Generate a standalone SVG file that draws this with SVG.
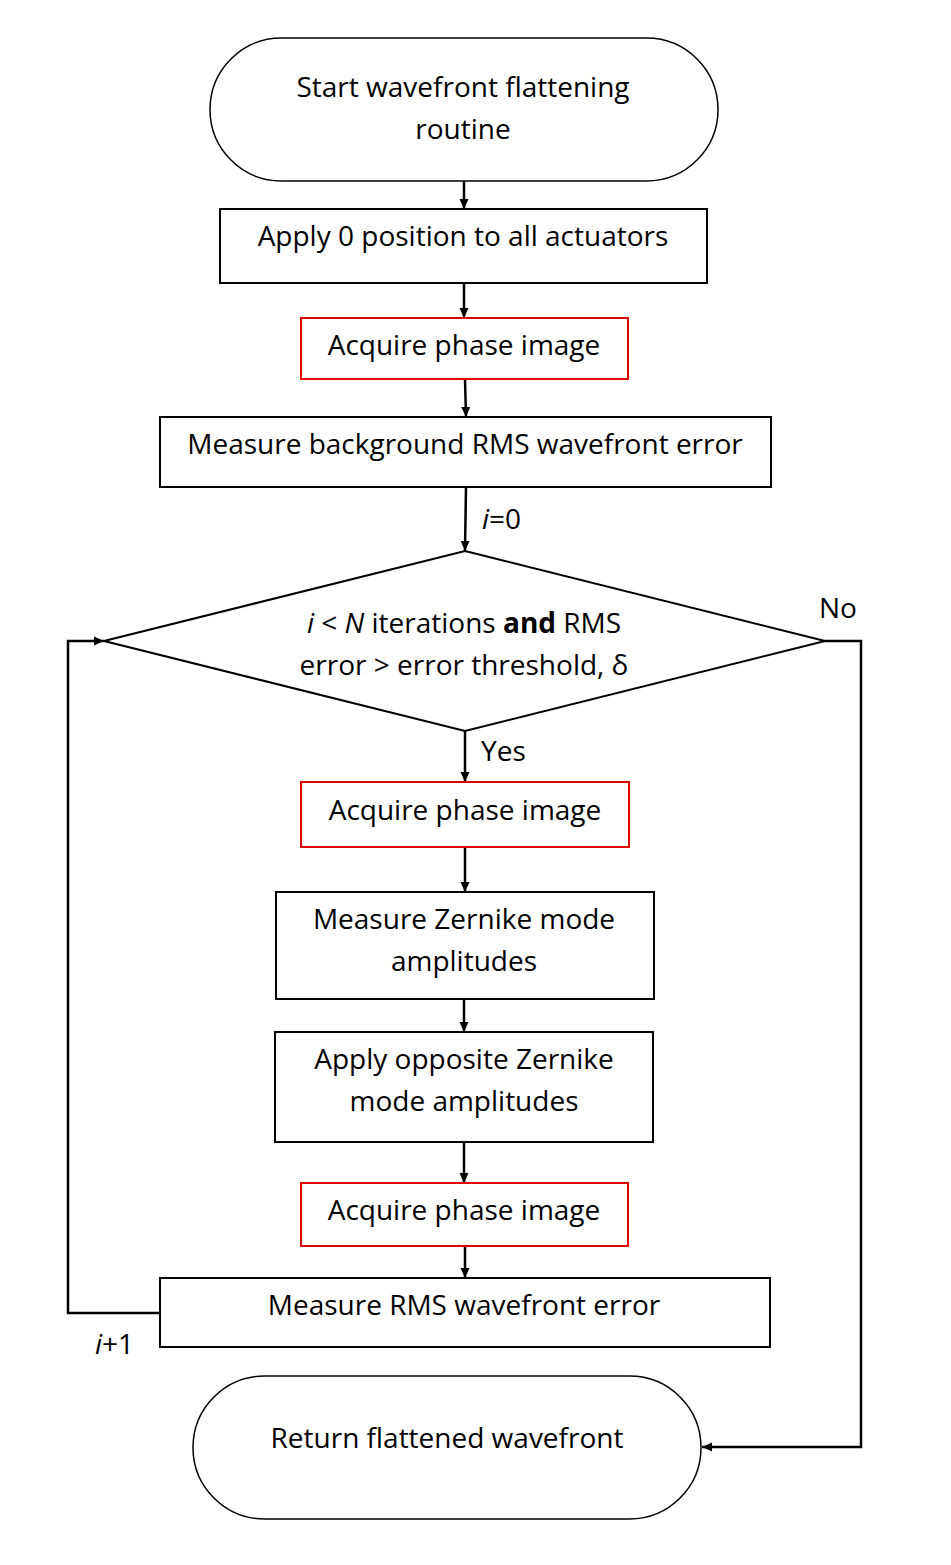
<svg xmlns="http://www.w3.org/2000/svg" width="951" height="1565" viewBox="0 0 951 1565">
<style>
.box{fill:#fff;stroke:#000;stroke-width:2}
.red{fill:#fff;stroke:#e00000;stroke-width:2}
.term{fill:#fff;stroke:#000;stroke-width:1.5}
.t{font-family:"Open Sans","Noto Sans",sans-serif;font-size:28px;fill:#000;text-anchor:middle}
.l{font-family:"Open Sans","Noto Sans",sans-serif;font-size:28px;fill:#000}
.c{fill:none;stroke:#000;stroke-width:2.5}
</style>
<defs>
<marker id="ah" viewBox="0 0 10 10" refX="10" refY="5" markerWidth="10" markerHeight="10" markerUnits="userSpaceOnUse" orient="auto">
<path d="M0,0.5 L10,5 L0,9.5 Z" fill="#000"/>
</marker>
</defs>
<rect width="951" height="1565" fill="#fff"/>
<g id="connectors">
<line class="c" x1="464" y1="181" x2="464" y2="209" marker-end="url(#ah)"/>
<line class="c" x1="464" y1="283" x2="464" y2="318" marker-end="url(#ah)"/>
<line class="c" x1="465" y1="379" x2="466" y2="417" marker-end="url(#ah)"/>
<line class="c" x1="466" y1="487" x2="465" y2="551" marker-end="url(#ah)"/>
<line class="c" x1="465" y1="731" x2="465" y2="782" marker-end="url(#ah)"/>
<line class="c" x1="465" y1="847" x2="465" y2="892" marker-end="url(#ah)"/>
<line class="c" x1="464" y1="999" x2="464" y2="1032" marker-end="url(#ah)"/>
<line class="c" x1="464" y1="1142" x2="464" y2="1183" marker-end="url(#ah)"/>
<line class="c" x1="465" y1="1246" x2="465" y2="1278" marker-end="url(#ah)"/>
<polyline class="c" points="825,641 861,641 861,1447 702,1447" marker-end="url(#ah)"/>
<polyline class="c" points="160,1313 68,1313 68,641 104,641" marker-end="url(#ah)"/>
<text class="l" x="482" y="529"><tspan font-style="italic">i</tspan>=0</text>
<text class="l" x="819" y="618">No</text>
<text class="l" x="481" y="761">Yes</text>
<text class="l" x="95" y="1354"><tspan font-style="italic">i</tspan>+1</text>
</g>
<g id="start">
<rect class="term" x="210" y="38" width="508" height="143" rx="71.5" ry="71.5"/>
<text class="t" x="463" y="97">Start wavefront flattening</text>
<text class="t" x="463" y="139">routine</text>
</g>
<g id="apply0">
<rect class="box" x="220" y="209" width="487" height="74"/>
<text class="t" x="463" y="246">Apply 0 position to all actuators</text>
</g>
<g id="acquire1">
<rect class="red" x="301" y="318" width="327" height="61"/>
<text class="t" x="464" y="355">Acquire phase image</text>
</g>
<g id="measureBg">
<rect class="box" x="160" y="417" width="611" height="70"/>
<text class="t" x="465" y="454">Measure background RMS wavefront error</text>
</g>
<g id="decision">
<polygon class="box" points="465,551 825,641 465,731 104,641"/>
<text class="t" x="464" y="633"><tspan font-style="italic">i</tspan> &lt; <tspan font-style="italic">N</tspan> iterations <tspan font-weight="bold">and</tspan> RMS</text>
<text class="t" x="464" y="675">error &gt; error threshold, δ</text>
</g>
<g id="acquire2">
<rect class="red" x="301" y="782" width="328" height="65"/>
<text class="t" x="465" y="820">Acquire phase image</text>
</g>
<g id="measureZ">
<rect class="box" x="276" y="892" width="378" height="107"/>
<text class="t" x="464" y="929">Measure Zernike mode</text>
<text class="t" x="464" y="971">amplitudes</text>
</g>
<g id="applyOpp">
<rect class="box" x="275" y="1032" width="378" height="110"/>
<text class="t" x="464" y="1069">Apply opposite Zernike</text>
<text class="t" x="464" y="1111">mode amplitudes</text>
</g>
<g id="acquire3">
<rect class="red" x="301" y="1183" width="327" height="63"/>
<text class="t" x="464" y="1220">Acquire phase image</text>
</g>
<g id="measureRms">
<rect class="box" x="160" y="1278" width="610" height="69"/>
<text class="t" x="464" y="1315">Measure RMS wavefront error</text>
</g>
<g id="end">
<rect class="term" x="193" y="1376" width="508" height="143" rx="71.5" ry="71.5"/>
<text class="t" x="447" y="1448">Return flattened wavefront</text>
</g>
</svg>
